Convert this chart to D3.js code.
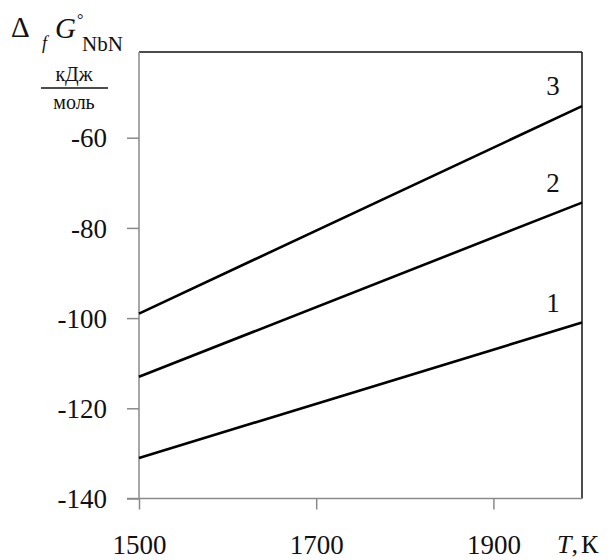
<!DOCTYPE html>
<html lang="ru">
<head>
<meta charset="utf-8">
<script src="https://d3js.org/d3.v7.min.js"></script>
<style>
	body { margin: 0; background: #fff; }
	text { font-family: "Liberation Serif", "Times New Roman", serif; fill: #111; }
</style>
</head>
<body>
<div id="chart"></div>
<script>
	// chart data
	var temps = [1500, 2000];
	var curve1 = [-131, -101];
	var curve2 = [-113, -74.4];
	var curve3 = [-99, -53];
	var curveNames = ["1", "2", "3"];
	var xTicks = [1500, 1700, 1900];
	var yTicks = [-140, -120, -100, -80, -60];

	var w = 615, h = 560;
	var plotLeft = 139, plotRight = 582, plotTop = 52, plotBottom = 498.5;

	var x = d3.scaleLinear().domain([1500, 2000]).range([plotLeft, plotRight]);
	var y = d3.scaleLinear().domain([-140, -41]).range([plotBottom, plotTop]);

	var svg = d3.select("#chart").append("svg")
		.attr("width", w)
		.attr("height", h);

	// frame: top and right in black
	svg.append("line")
		.attr("x1", plotLeft).attr("y1", plotTop).attr("x2", plotRight).attr("y2", plotTop)
		.attr("stroke", "#111").attr("stroke-width", 1.5);
	svg.append("line")
		.attr("x1", plotRight).attr("y1", plotTop).attr("x2", plotRight).attr("y2", plotBottom)
		.attr("stroke", "#111").attr("stroke-width", 1.5);

	// y axis
	var yAxis = svg.append("g")
		.attr("transform", "translate(" + plotLeft + ",0)")
		.call(d3.axisLeft(y).tickValues(yTicks).tickSize(12).tickPadding(20)
			.tickFormat(function(d) { return d; }));
	yAxis.select(".domain").attr("stroke", "#8a8a8a").attr("stroke-width", 1.5)
		.attr("d", "M0," + plotTop + "V" + plotBottom);
	yAxis.selectAll(".tick line").attr("stroke", "#8a8a8a").attr("stroke-width", 1.5);
	yAxis.selectAll(".tick text")
		.attr("font-family", "'Liberation Serif', serif")
		.attr("font-size", 27)
		.attr("fill", "#111")
		.attr("dy", "0.34em");

	// x axis
	var xAxis = svg.append("g")
		.attr("transform", "translate(0," + plotBottom + ")")
		.call(d3.axisBottom(x).tickValues(xTicks).tickSize(11).tickFormat(function(d) { return d; }));
	xAxis.select(".domain").attr("stroke", "#8a8a8a").attr("stroke-width", 1.5)
		.attr("d", "M" + (plotLeft - 12) + ",0H" + plotRight);
	xAxis.selectAll(".tick line").attr("stroke", "#8a8a8a").attr("stroke-width", 1.5);
	xAxis.selectAll(".tick text")
		.attr("font-family", "'Liberation Serif', serif")
		.attr("font-size", 27)
		.attr("fill", "#111")
		.attr("y", 55)
		.attr("dy", 0);

	// curves
	var line = d3.line()
		.x(function(d) { return x(d[0]); })
		.y(function(d) { return y(d[1]); });
	var curves = [curve1, curve2, curve3];
	curves.forEach(function(c, i) {
		var pts = temps.map(function(t, j) { return [t, c[j]]; });
		svg.append("path")
			.attr("d", line(pts))
			.attr("fill", "none")
			.attr("stroke", "#000")
			.attr("stroke-width", 2.6);
		svg.append("text")
			.attr("x", x(temps[temps.length - 1]) - 29)
			.attr("y", y(c[c.length - 1]) - 11)
			.attr("text-anchor", "middle")
			.attr("font-size", 27)
			.text(curveNames[i]);
	});

	// x axis title
	var xt = svg.append("text")
		.attr("x", 557).attr("y", 553)
		.attr("font-size", 26);
	xt.append("tspan").attr("font-style", "italic").text("T");
	xt.append("tspan").text(",");
	xt.append("tspan").attr("dx", 3).text("К");

	// y axis title
	svg.append("text").attr("x", 11).attr("y", 37).attr("font-size", 29).text("Δ");
	svg.append("text").attr("x", 42).attr("y", 49).attr("font-size", 18)
		.attr("font-style", "italic").text("f");
	svg.append("text").attr("x", 55).attr("y", 38).attr("font-size", 29)
		.attr("font-style", "italic").text("G");
	svg.append("text").attr("x", 77).attr("y", 25).attr("font-size", 16).text("°");
	svg.append("text").attr("x", 82).attr("y", 51).attr("font-size", 21).text("NbN");
	svg.append("text").attr("x", 74).attr("y", 81).attr("font-size", 20)
		.attr("text-anchor", "middle").text("кДж");
	svg.append("line")
		.attr("x1", 41).attr("x2", 108).attr("y1", 88).attr("y2", 88)
		.attr("stroke", "#111").attr("stroke-width", 1.3);
	svg.append("text").attr("x", 74).attr("y", 109).attr("font-size", 20)
		.attr("text-anchor", "middle").text("моль");
</script>
</body>
</html>
